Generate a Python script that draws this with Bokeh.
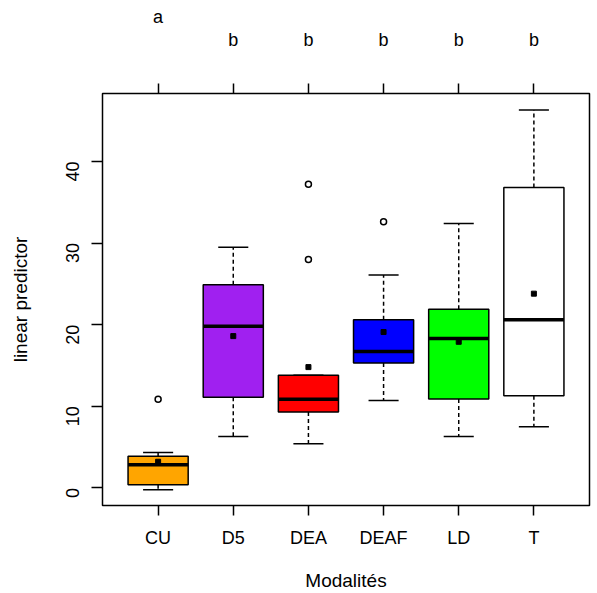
import math
from bokeh.plotting import figure
from bokeh.models import Range1d, FixedTicker, LinearAxis
from bokeh.embed import file_html
from bokeh.resources import INLINE

# ---- data ----
categories = ["CU", "D5", "DEA", "DEAF", "LD", "T"]
box_colors = ["#FFA500", "#A020F0", "#FF0000", "#0000FF", "#00FF00", "#FFFFFF"]
whisker_low = [-0.24, 6.3, 5.4, 10.7, 6.3, 7.5]
q1 = [0.37, 11.1, 9.3, 15.3, 10.9, 11.3]
median = [2.84, 19.8, 10.85, 16.7, 18.3, 20.6]
q3 = [3.87, 24.9, 13.8, 20.6, 21.9, 36.8]
whisker_high = [4.35, 29.5, 13.8, 26.1, 32.4, 46.3]
means = [3.2, 18.6, 14.8, 19.1, 17.9, 23.8]
outlier_group = ["CU", "DEA", "DEA", "DEAF"]
outlier_value = [10.85, 28.0, 37.2, 32.6]
letters = ["a", "b", "b", "b", "b", "b"]
y_ticks = [0, 10, 20, 30, 40]

FONT = "Liberation Sans"
FS = "18px"
LFS = "19px"

xs = list(range(1, len(categories) + 1))
pos = {c: i + 1 for i, c in enumerate(categories)}
ox = [pos[c] for c in outlier_group]

p = figure(width=597, height=593, output_backend="svg", toolbar_location=None,
           x_range=Range1d(0.26, 6.74), y_range=Range1d(-2.16, 48.33),
           min_border_left=102, min_border_right=8, min_border_top=93, min_border_bottom=86)
p.xgrid.visible = False
p.ygrid.visible = False
p.outline_line_color = "black"
p.outline_line_width = 1.5
p.background_fill_color = "white"
p.border_fill_color = "white"

# whiskers
p.segment(x0=xs, y0=q3, x1=xs, y1=whisker_high, line_color="black", line_width=1.5, line_dash="4 3")
p.segment(x0=xs, y0=q1, x1=xs, y1=whisker_low, line_color="black", line_width=1.5, line_dash="4 3")
p.segment(x0=[x - 0.2 for x in xs], y0=whisker_high, x1=[x + 0.2 for x in xs], y1=whisker_high,
          line_color="black", line_width=1.5)
p.segment(x0=[x - 0.2 for x in xs], y0=whisker_low, x1=[x + 0.2 for x in xs], y1=whisker_low,
          line_color="black", line_width=1.5)
# boxes
p.vbar(x=xs, width=0.8, bottom=q1, top=q3, fill_color=box_colors, line_color="black", line_width=1.5)
# medians
p.segment(x0=[x - 0.4 for x in xs], y0=median, x1=[x + 0.4 for x in xs], y1=median,
          line_color="black", line_width=3.5, line_cap="butt")
# means
p.scatter(x=xs, y=means, marker="square", size=5, fill_color="black", line_color="black")
# outliers
p.scatter(x=ox, y=outlier_value, marker="circle", size=6, fill_color="white",
          line_color="black", line_width=1.5)

# axes
xa = p.xaxis[0]
xa.ticker = FixedTicker(ticks=xs)
xa.major_label_overrides = {x: c for x, c in zip(xs, categories)}
xa.axis_line_color = None
xa.major_tick_out = 10
xa.major_tick_in = 0
xa.minor_tick_line_color = None
xa.major_tick_line_width = 1.5
xa.major_label_standoff = 12
xa.major_label_text_font = FONT
xa.major_label_text_font_size = FS
xa.major_label_text_color = "black"
xa.axis_label = "Modalités"
xa.axis_label_text_font = FONT
xa.axis_label_text_font_size = LFS
xa.axis_label_text_font_style = "normal"
xa.axis_label_text_color = "black"
xa.axis_label_standoff = 19

ya = p.yaxis[0]
ya.ticker = FixedTicker(ticks=y_ticks)
ya.axis_line_color = None
ya.major_tick_out = 11
ya.major_tick_in = 0
ya.minor_tick_line_color = None
ya.major_tick_line_width = 1.5
ya.major_label_orientation = math.pi / 2
ya.major_label_standoff = 19
ya.major_label_text_font = FONT
ya.major_label_text_font_size = FS
ya.major_label_text_color = "black"
ya.axis_label = "linear predictor"
ya.axis_label_text_font = FONT
ya.axis_label_text_font_size = LFS
ya.axis_label_text_font_style = "normal"
ya.axis_label_text_color = "black"
ya.axis_label_standoff = 26

# top axis: ticks + the "b" letters
inner_labels = {x: (l if l == "b" else "") for x, l in zip(xs, letters)}
top = LinearAxis(ticker=FixedTicker(ticks=xs), axis_line_color=None, major_tick_out=10,
                 major_tick_in=0, minor_tick_line_color=None, major_tick_line_width=1.5,
                 major_label_overrides=inner_labels, major_label_standoff=34,
                 major_label_text_font=FONT, major_label_text_font_size=FS,
                 major_label_text_color="black")
p.add_layout(top, "above")
# outer row: the "a" letters
outer_labels = {x: (l if l == "a" else "") for x, l in zip(xs, letters)}
top2 = LinearAxis(ticker=FixedTicker(ticks=xs), axis_line_color=None, major_tick_out=0,
                  major_tick_in=0, minor_tick_line_color=None, major_tick_line_color=None,
                  major_label_overrides=outer_labels, major_label_standoff=0,
                  major_label_text_font=FONT, major_label_text_font_size=FS,
                  major_label_text_color="black")
p.add_layout(top2, "above")

open("out.html", "w").write(file_html(p, INLINE))
